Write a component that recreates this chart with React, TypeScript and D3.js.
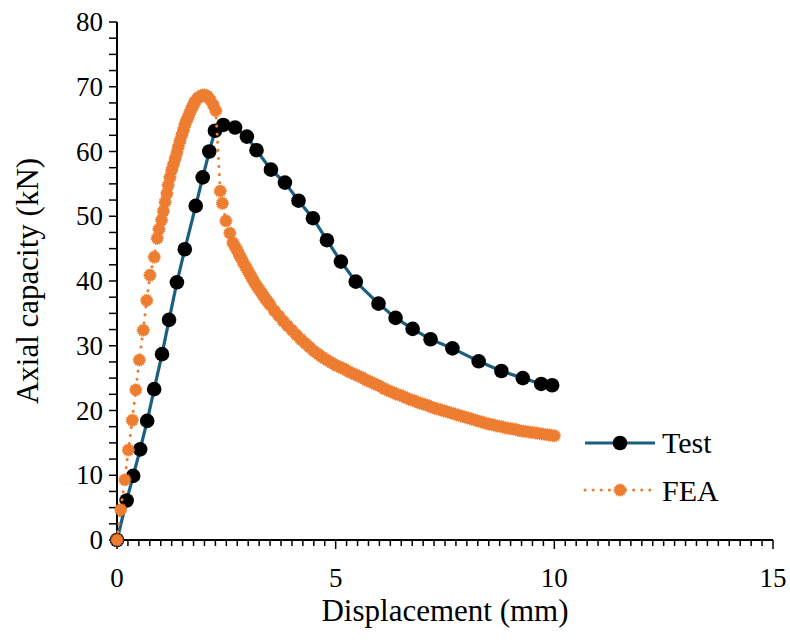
import React, { useEffect } from "react";
import * as d3 from "d3";

const testX = [0, 0.22, 0.37, 0.53, 0.69, 0.85, 1.03, 1.19, 1.37, 1.55, 1.80, 1.96, 2.11, 2.24, 2.43, 2.70, 2.97, 3.19, 3.52, 3.84, 4.15, 4.48, 4.80, 5.12, 5.46, 5.98, 6.37, 6.76, 7.17, 7.67, 8.27, 8.79, 9.28, 9.70, 9.95];
const testY = [0, 6.1, 9.9, 14.0, 18.4, 23.3, 28.7, 34.0, 39.8, 44.9, 51.6, 56.0, 60.0, 63.2, 64.1, 63.7, 62.3, 60.2, 57.2, 55.2, 52.4, 49.7, 46.3, 43.0, 39.9, 36.5, 34.3, 32.6, 31.0, 29.6, 27.6, 26.1, 25.0, 24.1, 23.9];

const feaX = [
  0, 0.085, 0.18, 0.26, 0.35, 0.43, 0.51, 0.60, 0.68, 0.755, 0.853, 0.92, 0.96, 1.02, 1.06, 1.10, 1.14, 1.17, 1.21, 1.25, 1.29, 1.33, 1.37, 1.40, 1.44, 1.48, 1.52, 1.55, 1.59, 1.63, 1.67, 1.71, 1.75, 1.78, 1.84, 1.90, 1.96, 2.01, 2.07, 2.13, 2.20, 2.26,
  2.36, 2.41, 2.49, 2.58,
  2.65, 2.70, 2.75, 2.80, 2.85, 2.90, 2.95, 3.00, 3.05, 3.10, 3.15, 3.20, 3.25, 3.30, 3.35, 3.40, 3.45, 3.50,
  3.60, 3.70, 3.80, 3.90, 4.00, 4.10, 4.20, 4.30, 4.40, 4.50, 4.60, 4.70, 4.80, 4.90, 5.00,
  5.10, 5.20, 5.30, 5.40, 5.50, 5.60, 5.70, 5.80, 5.90, 6.00, 6.10, 6.20, 6.30, 6.40, 6.50,
  6.60, 6.70, 6.80, 6.90, 7.00, 7.10, 7.20, 7.30, 7.40, 7.50, 7.60, 7.70, 7.80, 7.90, 8.00,
  8.10, 8.20, 8.30, 8.40, 8.50, 8.60, 8.70, 8.80, 8.90, 9.00, 9.10, 9.20, 9.30, 9.40, 9.50,
  9.60, 9.70, 9.80, 9.90, 10.00,
];
const feaY = [
  0, 4.7, 9.3, 13.9, 18.5, 23.2, 27.8, 32.4, 37.0, 40.9, 43.7, 46.6, 48.0, 49.4, 50.8, 52.2, 53.5, 54.8, 56.0, 57.1, 58.0, 58.9, 59.8, 60.7, 61.6, 62.5, 63.3, 64.1, 64.8, 65.4, 66.1, 66.7, 67.2, 67.7, 68.2, 68.5, 68.7, 68.7, 68.5, 68.0, 67.2, 66.3,
  53.9, 52.0, 49.3, 47.4,
  45.9, 45.3, 44.7, 44.0, 43.4, 42.7, 42.1, 41.5, 40.9, 40.3, 39.7, 39.2, 38.7, 38.2, 37.7, 37.2, 36.8, 36.3,
  35.4, 34.6, 33.8, 33.1, 32.4, 31.7, 31.0, 30.4, 29.8, 29.2, 28.7, 28.2, 27.8, 27.4, 27.0,
  26.7, 26.4, 26.0, 25.7, 25.4, 25.1, 24.7, 24.4, 24.1, 23.8, 23.4, 23.1, 22.8, 22.5, 22.3,
  22.0, 21.7, 21.5, 21.2, 21.0, 20.8, 20.5, 20.3, 20.1, 19.9, 19.7, 19.5, 19.3, 19.1, 18.9,
  18.7, 18.5, 18.3, 18.1, 17.9, 17.8, 17.6, 17.5, 17.3, 17.2, 17.1, 16.9, 16.8, 16.7, 16.6,
  16.5, 16.4, 16.3, 16.2, 16.1,
];

const xTicks = [0, 5, 10, 15];
const yTicks = [0, 10, 20, 30, 40, 50, 60, 70, 80];
const seriesNames = ["Test", "FEA"];
const xTitle = "Displacement (mm)";
const yTitle = "Axial capacity (kN)";

const FONT = "Liberation Serif, Times New Roman, Times, serif";
const TEAL = "#1b5f80";
const ORANGE = "#ED7D31";

export default function App() {
  useEffect(() => {
    document.body.style.margin = "0";
  }, []);
  const W = 790, H = 641;
  const x = d3.scaleLinear().domain([0, 15]).range([117, 773]);
  const y = d3.scaleLinear().domain([0, 80]).range([540, 22]);
  const line = d3.line<[number, number]>().x((d) => x(d[0])).y((d) => y(d[1]));
  const test: [number, number][] = testX.map((v, i) => [v, testY[i]]);
  const fea: [number, number][] = feaX.map((v, i) => [v, feaY[i]]);
  const xMinor = d3.range(0, 15.0001, 0.25);
  const yMinor = d3.range(0, 80.0001, 2.5);
  const ts = { fontFamily: FONT } as React.CSSProperties;

  return (
    <svg width={W} height={H} style={{ display: "block", position: "absolute", left: 0, top: 0, fontFamily: FONT }}>
      <rect width={W} height={H} fill="#fff" />
      <g stroke="#000" strokeWidth={2}>
        <line x1={x(0)} x2={x(15)} y1={y(0)} y2={y(0)} />
        <line x1={x(0)} x2={x(0)} y1={y(0)} y2={y(80)} />
        {xMinor.map((t, i) => (
          <line key={"xm" + i} x1={x(t)} x2={x(t)} y1={y(0)} y2={y(0) + (i % 20 === 0 ? 9 : 6)} strokeWidth={1.5} />
        ))}
        {yMinor.map((t, i) => (
          <line key={"ym" + i} x1={x(0)} x2={x(0) - 8} y1={y(t)} y2={y(t)} strokeWidth={1.5} />
        ))}
      </g>
      <g fontSize={27} fill="#000">
        {xTicks.map((t) => (
          <text key={"xt" + t} style={ts} x={x(t)} y={587} textAnchor="middle">{t}</text>
        ))}
        {yTicks.map((t) => (
          <text key={"yt" + t} style={ts} x={x(0) - 14} y={y(t) + 9} textAnchor="end">{t}</text>
        ))}
      </g>
      <text style={ts} x={445} y={621} fontSize={31} textAnchor="middle">{xTitle}</text>
      <text style={ts} transform={`translate(38,${y(40)}) rotate(-90)`} fontSize={31} textAnchor="middle">{yTitle}</text>

      <path d={line(test) || ""} fill="none" stroke={TEAL} strokeWidth={3.2} />
      {test.map((d, i) => (
        <circle key={"tc" + i} cx={x(d[0])} cy={y(d[1])} r={7.3} fill="#000" />
      ))}
      <path d={line(fea) || ""} fill="none" stroke={ORANGE} strokeWidth={3} strokeDasharray="0.1 8" strokeLinecap="round" />
      {fea.map((d, i) => (
        <circle key={"fc" + i} cx={x(d[0])} cy={y(d[1])} r={5.8} fill={ORANGE} stroke={ORANGE} strokeWidth={1.6} strokeDasharray="1 1" />
      ))}

      <g>
        <line x1={585} x2={655} y1={443} y2={443} stroke={TEAL} strokeWidth={3.2} />
        <circle cx={620} cy={443} r={7.3} fill="#000" />
        <text style={ts} x={662} y={453} fontSize={30}>{seriesNames[0]}</text>
        <line x1={585} x2={655} y1={490} y2={490} stroke={ORANGE} strokeWidth={3} strokeDasharray="0.1 8" strokeLinecap="round" />
        <circle cx={620} cy={490} r={5.8} fill={ORANGE} stroke={ORANGE} strokeWidth={1.6} strokeDasharray="1 1" />
        <text style={ts} x={662} y={501} fontSize={30}>{seriesNames[1]}</text>
      </g>
    </svg>
  );
}
